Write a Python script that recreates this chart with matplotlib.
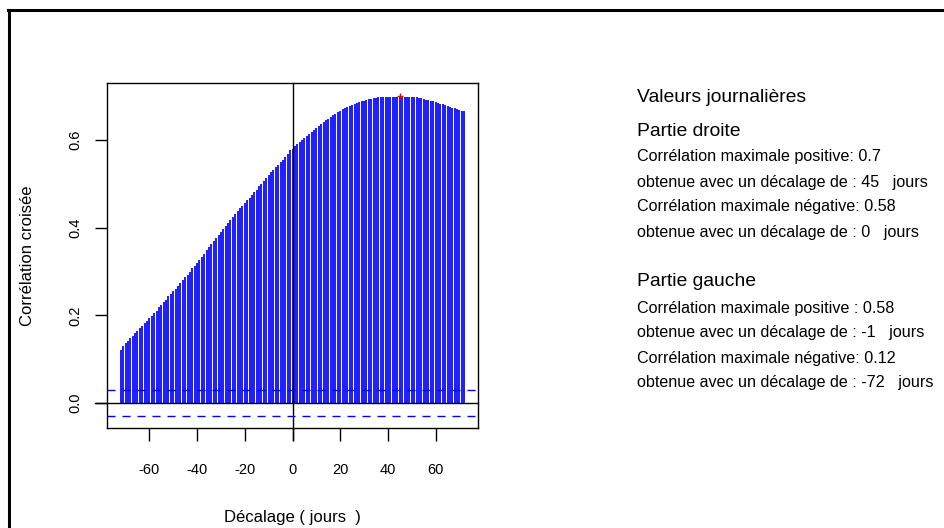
import numpy as np
import matplotlib
matplotlib.use("Agg")
import matplotlib.pyplot as plt
from matplotlib.lines import Line2D

plt.rcParams['font.family'] = ['Liberation Sans', 'DejaVu Sans']
plt.rcParams['axes.unicode_minus'] = False

# cross-correlation by lag (days), lags -72 .. 72
lags = list(range(-72, 73))
ccf_left = [
    0.120, 0.130, 0.136, 0.142, 0.148, 0.153, 0.159, 0.165, 0.170, 0.176,
    0.182, 0.188, 0.193, 0.199, 0.205, 0.211, 0.218, 0.224, 0.230, 0.236,
    0.243, 0.249, 0.255, 0.261, 0.268, 0.274, 0.280, 0.287, 0.293, 0.300,
    0.307, 0.313, 0.320, 0.327, 0.334, 0.341, 0.348, 0.355, 0.362, 0.369,
    0.376, 0.383, 0.390, 0.397, 0.404, 0.411, 0.418, 0.425, 0.432, 0.438,
    0.444, 0.450, 0.456, 0.462, 0.468, 0.475, 0.481, 0.487, 0.494, 0.500,
    0.507, 0.513, 0.520, 0.526, 0.532, 0.538, 0.544, 0.550, 0.555, 0.561,
    0.568, 0.578,
]  # lags -72 .. -1
ccf_right = [
    0.580, 0.586, 0.591, 0.596, 0.601, 0.605, 0.610, 0.614, 0.619, 0.623,
    0.628, 0.632, 0.636, 0.641, 0.645, 0.649, 0.653, 0.657, 0.660, 0.664,
    0.667, 0.670, 0.673, 0.676, 0.678, 0.680, 0.682, 0.684, 0.686, 0.688,
    0.690, 0.691, 0.693, 0.694, 0.695, 0.696, 0.697, 0.697, 0.698, 0.698,
    0.698, 0.698, 0.699, 0.699, 0.699, 0.700, 0.699, 0.699, 0.699, 0.698,
    0.698, 0.698, 0.697, 0.696, 0.695, 0.694, 0.692, 0.691, 0.689, 0.688,
    0.686, 0.684, 0.683, 0.681, 0.679, 0.678, 0.676, 0.674, 0.672, 0.670,
    0.669, 0.667, 0.665,
]  # lags 0 .. 72
ci = 0.03

lags = np.array(lags)
ccf = np.array(ccf_left + ccf_right)
left = lags < 0
right = ~left


def summary(mask):
    l, v = lags[mask], ccf[mask]
    imax, imin = np.argmax(v), np.argmin(v)
    return l[imax], v[imax], l[imin], v[imin]


r_lmax, r_vmax, r_lmin, r_vmin = summary(right)
l_lmax, l_vmax, l_lmin, l_vmin = summary(left)

fig = plt.figure(figsize=(9.44, 5.28), dpi=100)
ax = fig.add_axes([107/944, 100/528, 371/944, 345/528])

ax.vlines(lags, 0, ccf, colors='blue', lw=1.25)
ax.axhline(0, xmin=-12/371, xmax=1, color='black', lw=1, clip_on=False)
ax.axvline(0, ymin=-12/345, ymax=1, color='black', lw=1, clip_on=False)
for c in (ci, -ci):
    ax.axhline(c, color='blue', lw=1, dashes=(5.8, 5))
ax.plot([r_lmax], [r_vmax], marker='+', color='red', ms=5, mew=1)

ax.set_xlim(-77.76, 77.76)
ax.set_ylim(-0.057, 0.730)
ax.set_xticks([-60, -40, -20, 0, 20, 40, 60])
ax.set_yticks([0.0, 0.2, 0.4, 0.6])
ax.set_yticklabels(['0.0', '0.2', '0.4', '0.6'], rotation=90, va='center')
ax.tick_params(direction='out', length=9, width=1, labelsize=10.5)
ax.tick_params(axis='y', pad=9)
ax.tick_params(axis='x', pad=16)
for s in ax.spines.values():
    s.set_linewidth(1)
ax.set_xlabel('Décalage ( jours  )', fontsize=12, labelpad=24)
ax.set_ylabel('Corrélation croisée', fontsize=12, labelpad=24)

# summary text on the right
def fmt(v):
    return f"{round(float(v), 2):g}"

tx = 637/944
big, small = 13.9, 11.6
lines = [
    (98, 'Valeurs journalières', big),
    (132, 'Partie droite', big),
    (157, f'Corrélation maximale positive: {fmt(r_vmax)}', small),
    (182, f'obtenue avec un décalage de : {r_lmax}   jours', small),
    (207, f'Corrélation maximale négative: {fmt(r_vmin)}', small),
    (232, f'obtenue avec un décalage de : {r_lmin}   jours', small),
    (282, 'Partie gauche', big),
    (308, f'Corrélation maximale positive : {fmt(l_vmax)}', small),
    (333, f'obtenue avec un décalage de : {l_lmax}   jours', small),
    (358, f'Corrélation maximale négative: {fmt(l_vmin)}', small),
    (383, f'obtenue avec un décalage de : {l_lmin}   jours', small),
]
for y, s, fs in lines:
    fig.text(tx, 1 - y/528, s, fontsize=fs, va='center', ha='left')

# outer frame
fig.add_artist(Line2D([8.5/944, 8.5/944], [0, 1 - 9.5/528], color='black', lw=2.2))
fig.add_artist(Line2D([7.7/944, 1], [1 - 9.5/528, 1 - 9.5/528], color='black', lw=2.2))

fig.savefig('out.png', dpi=100)
